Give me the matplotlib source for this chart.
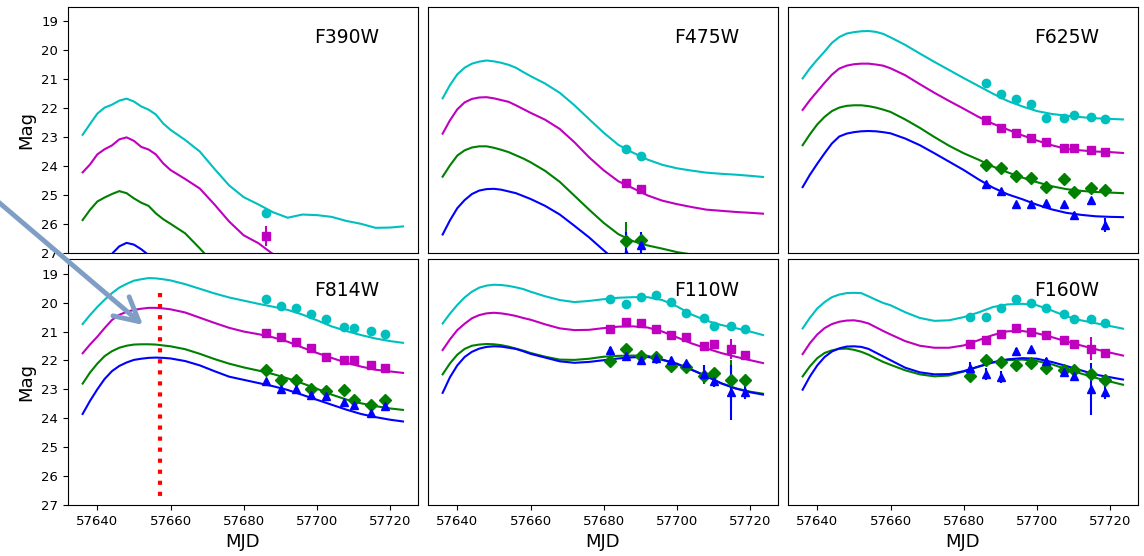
"""
plot.py
Light curves in six HST filters with model fits.
"""

import numpy as np
import matplotlib.pyplot as plt
from matplotlib.patches import FancyArrowPatch

nan = np.nan

# model grid (MJD)
T_MODEL = [57636, 57638, 57640, 57642, 57644, 57646, 57648, 57650, 57652, 57654,
           57656, 57658, 57660, 57664, 57668, 57672, 57676, 57680, 57684, 57688,
           57692, 57696, 57700, 57704, 57708, 57712, 57716, 57720, 57723.5]

# model curves: C = cyan, M = magenta, G = green, B = blue
F390W_C = [22.92, 22.55, 22.19, 21.98, 21.88, 21.74, 21.67, 21.77, 21.94, 22.05, 22.22, 22.53, 22.75, 23.10, 23.50,
           24.10, 24.67, 25.08, 25.33, 25.60, 25.79, 25.68, 25.70, 25.76, 25.90, 26.00, 26.14, 26.13, 26.09]
F390W_M = [24.22, 23.95, 23.60, 23.42, 23.29, 23.08, 23.01, 23.13, 23.34, 23.43, 23.60, 23.91, 24.14, 24.45, 24.78,
           25.33, 25.92, 26.40, 26.67, 27.05, 27.50, nan, nan, nan, nan, nan, nan, nan, nan]
F390W_G = [25.87, 25.52, 25.23, 25.09, 24.97, 24.87, 24.94, 25.12, 25.27, 25.38, 25.64, 25.84, 26.00, 26.33, 26.85,
           27.40, nan, nan, nan, nan, nan, nan, nan, nan, nan, nan, nan, nan, nan]
F390W_B = [nan, nan, nan, 27.30, 27.04, 26.78, 26.66, 26.72, 26.88, 27.08, 27.40, nan, nan, nan, nan,
           nan, nan, nan, nan, nan, nan, nan, nan, nan, nan, nan, nan, nan, nan]

F475W_C = [21.66, 21.20, 20.83, 20.60, 20.46, 20.39, 20.35, 20.38, 20.43, 20.50, 20.60, 20.75, 20.89, 21.15, 21.47,
           21.90, 22.38, 22.85, 23.27, 23.54, 23.78, 23.96, 24.08, 24.16, 24.23, 24.27, 24.30, 24.34, 24.38]
F475W_M = [22.88, 22.42, 22.04, 21.80, 21.68, 21.63, 21.62, 21.66, 21.72, 21.78, 21.90, 22.03, 22.16, 22.40, 22.72,
           23.18, 23.70, 24.15, 24.53, 24.77, 25.02, 25.20, 25.32, 25.42, 25.51, 25.55, 25.59, 25.62, 25.65]
F475W_G = [24.37, 23.98, 23.64, 23.46, 23.36, 23.32, 23.32, 23.37, 23.44, 23.52, 23.63, 23.74, 23.87, 24.17, 24.55,
           25.03, 25.51, 25.97, 26.36, 26.60, 26.75, 26.86, 26.98, 27.06, 27.12, nan, nan, nan, nan]
F475W_B = [26.37, 25.88, 25.46, 25.18, 24.97, 24.85, 24.80, 24.79, 24.82, 24.88, 24.94, 25.04, 25.14, 25.38, 25.68,
           26.07, 26.47, 26.92, 27.35, nan, nan, nan, nan, nan, nan, nan, nan, nan, nan]

F625W_C = [20.97, 20.62, 20.32, 20.04, 19.74, 19.54, 19.42, 19.37, 19.34, 19.33, 19.36, 19.43, 19.55, 19.81, 20.11,
           20.40, 20.68, 20.96, 21.23, 21.50, 21.75, 21.94, 22.10, 22.20, 22.26, 22.31, 22.35, 22.37, 22.39]
F625W_M = [22.06, 21.72, 21.42, 21.12, 20.84, 20.63, 20.53, 20.48, 20.46, 20.46, 20.49, 20.53, 20.62, 20.86, 21.17,
           21.47, 21.75, 22.02, 22.30, 22.54, 22.74, 22.94, 23.12, 23.28, 23.41, 23.46, 23.50, 23.52, 23.55]
F625W_G = [23.28, 22.90, 22.56, 22.30, 22.10, 21.98, 21.92, 21.90, 21.90, 21.93, 21.98, 22.05, 22.13, 22.39, 22.68,
           23.00, 23.30, 23.56, 23.78, 24.02, 24.22, 24.40, 24.56, 24.70, 24.80, 24.86, 24.90, 24.92, 24.94]
F625W_B = [24.73, 24.30, 23.92, 23.56, 23.22, 22.98, 22.88, 22.83, 22.80, 22.79, 22.80, 22.83, 22.87, 23.05, 23.28,
           23.56, 23.85, 24.14, 24.46, 24.75, 24.98, 25.15, 25.34, 25.50, 25.62, 25.69, 25.74, 25.76, 25.77]

F814W_C = [20.74, 20.43, 20.15, 19.90, 19.67, 19.48, 19.35, 19.24, 19.19, 19.15, 19.16, 19.19, 19.23, 19.36, 19.52,
           19.68, 19.82, 19.93, 20.04, 20.14, 20.25, 20.41, 20.61, 20.82, 20.98, 21.12, 21.24, 21.33, 21.39]
F814W_M = [21.75, 21.45, 21.18, 20.88, 20.60, 20.42, 20.32, 20.25, 20.21, 20.18, 20.18, 20.20, 20.23, 20.34, 20.52,
           20.70, 20.87, 21.00, 21.09, 21.20, 21.35, 21.55, 21.74, 21.91, 22.08, 22.21, 22.32, 22.38, 22.43]
F814W_G = [22.80, 22.42, 22.11, 21.85, 21.68, 21.56, 21.49, 21.45, 21.44, 21.44, 21.45, 21.48, 21.51, 21.61, 21.77,
           21.95, 22.11, 22.24, 22.35, 22.47, 22.62, 22.79, 22.98, 23.18, 23.35, 23.48, 23.58, 23.66, 23.71]
F814W_B = [23.85, 23.40, 23.00, 22.64, 22.37, 22.19, 22.07, 21.98, 21.94, 21.91, 21.90, 21.91, 21.93, 22.02, 22.17,
           22.37, 22.56, 22.67, 22.78, 22.89, 23.02, 23.19, 23.36, 23.53, 23.70, 23.85, 23.96, 24.05, 24.11]

F110W_C = [20.72, 20.38, 20.08, 19.82, 19.62, 19.48, 19.41, 19.38, 19.39, 19.42, 19.47, 19.53, 19.62, 19.78, 19.91,
           19.98, 19.94, 19.88, 19.83, 19.81, 19.81, 19.91, 20.13, 20.41, 20.62, 20.77, 20.88, 21.00, 21.12]
F110W_M = [21.64, 21.27, 20.95, 20.73, 20.54, 20.43, 20.37, 20.35, 20.37, 20.41, 20.46, 20.53, 20.59, 20.75, 20.89,
           20.95, 20.94, 20.88, 20.83, 20.82, 20.86, 21.00, 21.20, 21.41, 21.58, 21.74, 21.87, 21.99, 22.09]
F110W_G = [22.48, 22.10, 21.80, 21.60, 21.49, 21.45, 21.43, 21.44, 21.47, 21.52, 21.59, 21.66, 21.74, 21.87, 21.97,
           21.98, 21.94, 21.87, 21.84, 21.83, 21.84, 21.98, 22.13, 22.32, 22.54, 22.78, 22.96, 23.08, 23.15]
F110W_B = [23.12, 22.58, 22.17, 21.88, 21.70, 21.59, 21.53, 21.51, 21.52, 21.56, 21.60, 21.68, 21.77, 21.90, 22.03,
           22.08, 22.05, 21.99, 21.93, 21.89, 21.88, 21.97, 22.11, 22.32, 22.54, 22.79, 22.97, 23.10, 23.18]

F160W_C = [20.89, 20.52, 20.20, 19.98, 19.81, 19.72, 19.67, 19.66, 19.67, 19.78, 19.90, 20.01, 20.09, 20.33, 20.53,
           20.63, 20.61, 20.50, 20.34, 20.15, 20.06, 20.04, 20.09, 20.27, 20.47, 20.61, 20.71, 20.81, 20.90]
F160W_M = [21.78, 21.40, 21.10, 20.88, 20.74, 20.66, 20.62, 20.61, 20.65, 20.72, 20.85, 20.98, 21.10, 21.33, 21.49,
           21.56, 21.56, 21.48, 21.30, 21.12, 20.99, 20.98, 21.06, 21.19, 21.34, 21.48, 21.61, 21.73, 21.83]
F160W_G = [22.55, 22.20, 21.92, 21.74, 21.65, 21.60, 21.59, 21.63, 21.70, 21.80, 21.93, 22.05, 22.15, 22.34, 22.48,
           22.55, 22.52, 22.38, 22.22, 22.07, 21.99, 21.97, 22.02, 22.13, 22.30, 22.45, 22.60, 22.73, 22.84]
F160W_B = [23.01, 22.55, 22.17, 21.88, 21.69, 21.58, 21.52, 21.51, 21.53, 21.60, 21.73, 21.86, 21.99, 22.25, 22.41,
           22.48, 22.47, 22.37, 22.21, 22.06, 21.96, 21.92, 21.94, 22.05, 22.19, 22.34, 22.49, 22.58, 22.66]

# observation epochs
EPOCHS_1 = [57686.1]
EPOCHS_2 = [57686.1, 57690.1]
EPOCHS_9 = [57686.1, 57690.2, 57694.4, 57698.5, 57702.4, 57707.4, 57710.0, 57714.7, 57718.5]
EPOCHS_10 = [57681.8, 57686.1, 57690.2, 57694.4, 57698.5, 57702.4, 57707.4, 57710.0, 57714.7, 57718.5]

# observed magnitudes and errors
F390W_OBS_C, F390W_ERR_C = [25.63], [0.10]
F390W_OBS_M, F390W_ERR_M = [26.41], [0.35]
F390W_OBS_G, F390W_ERR_G = [], []
F390W_OBS_B, F390W_ERR_B = [], []

F475W_OBS_C, F475W_ERR_C = [23.40, 23.66], [0.06, 0.06]
F475W_OBS_M, F475W_ERR_M = [24.59, 24.79], [0.06, 0.06]
F475W_OBS_G, F475W_ERR_G = [26.60, 26.57], [0.66, 0.15]
F475W_OBS_B, F475W_ERR_B = [27.05, 26.72], [0.75, 0.45]

F625W_OBS_C = [21.13, 21.50, 21.67, 21.87, 22.33, 22.33, 22.22, 22.29, 22.37]
F625W_ERR_C = [0.04, 0.04, 0.04, 0.04, 0.04, 0.04, 0.04, 0.04, 0.04]
F625W_OBS_M = [22.40, 22.69, 22.85, 23.02, 23.17, 23.38, 23.37, 23.46, 23.52]
F625W_ERR_M = [0.05, 0.05, 0.05, 0.05, 0.05, 0.05, 0.05, 0.05, 0.05]
F625W_OBS_G = [23.95, 24.07, 24.33, 24.41, 24.73, 24.44, 24.90, 24.76, 24.84]
F625W_ERR_G = [0.06, 0.06, 0.06, 0.06, 0.06, 0.06, 0.06, 0.06, 0.06]
F625W_OBS_B = [24.61, 24.87, 25.31, 25.31, 25.28, 25.31, 25.71, 25.19, 26.05]
F625W_ERR_B = [0.08, 0.08, 0.08, 0.08, 0.08, 0.08, 0.12, 0.08, 0.25]

F814W_OBS_C = [19.89, 20.10, 20.19, 20.40, 20.58, 20.84, 20.88, 20.99, 21.08]
F814W_ERR_C = [0.03, 0.03, 0.03, 0.03, 0.03, 0.03, 0.03, 0.03, 0.03]
F814W_OBS_M = [21.05, 21.20, 21.37, 21.58, 21.88, 21.97, 21.97, 22.14, 22.25]
F814W_ERR_M = [0.04, 0.04, 0.04, 0.04, 0.04, 0.04, 0.04, 0.04, 0.04]
F814W_OBS_G = [22.34, 22.66, 22.66, 22.99, 23.07, 23.03, 23.36, 23.55, 23.36]
F814W_ERR_G = [0.05, 0.05, 0.05, 0.05, 0.05, 0.05, 0.05, 0.05, 0.05]
F814W_OBS_B = [22.72, 22.99, 22.99, 23.21, 23.24, 23.45, 23.53, 23.82, 23.59]
F814W_ERR_B = [0.06, 0.06, 0.06, 0.06, 0.06, 0.06, 0.06, 0.06, 0.06]

F110W_OBS_C = [19.86, 20.06, 19.80, 19.75, 19.98, 20.35, 20.53, 20.82, 20.82, 20.91]
F110W_ERR_C = [0.03, 0.03, 0.03, 0.03, 0.03, 0.03, 0.05, 0.05, 0.15, 0.05]
F110W_OBS_M = [20.91, 20.68, 20.70, 20.90, 21.12, 21.18, 21.51, 21.44, 21.60, 21.80]
F110W_ERR_M = [0.04, 0.04, 0.04, 0.04, 0.04, 0.04, 0.15, 0.06, 0.35, 0.06]
F110W_OBS_G = [22.01, 21.62, 21.86, 21.88, 22.18, 22.23, 22.53, 22.43, 22.69, 22.69]
F110W_ERR_G = [0.06, 0.06, 0.06, 0.06, 0.06, 0.06, 0.30, 0.15, 0.70, 0.15]
F110W_OBS_B = [21.65, 21.83, 21.97, 21.91, 21.97, 22.09, 22.47, 22.72, 23.10, 23.10]
F110W_ERR_B = [0.12, 0.08, 0.08, 0.08, 0.08, 0.08, 0.30, 0.20, 0.95, 0.25]

F160W_OBS_C = [20.50, 20.50, 20.20, 19.89, 20.01, 20.18, 20.39, 20.58, 20.58, 20.72]
F160W_ERR_C = [0.03, 0.03, 0.03, 0.03, 0.03, 0.03, 0.03, 0.03, 0.12, 0.03]
F160W_OBS_M = [21.43, 21.28, 21.07, 20.87, 21.01, 21.13, 21.28, 21.42, 21.59, 21.74]
F160W_ERR_M = [0.04, 0.04, 0.04, 0.04, 0.04, 0.04, 0.04, 0.04, 0.40, 0.05]
F160W_OBS_G = [22.53, 21.99, 22.05, 22.17, 22.09, 22.26, 22.34, 22.32, 22.47, 22.66]
F160W_ERR_G = [0.20, 0.06, 0.06, 0.06, 0.06, 0.06, 0.06, 0.06, 0.10, 0.08]
F160W_OBS_B = [22.26, 22.47, 22.58, 21.68, 21.62, 22.03, 22.41, 22.53, 22.99, 23.10]
F160W_ERR_B = [0.20, 0.20, 0.20, 0.10, 0.10, 0.10, 0.12, 0.12, 0.90, 0.25]

FILTERS = ['F390W', 'F475W', 'F625W', 'F814W', 'F110W', 'F160W']

# red dotted marker in the F814W panel
PEAK_MJD = 57657.1
PEAK_SPAN = [19.66, 26.73]

panels = [
    (EPOCHS_1, [F390W_C, F390W_M, F390W_G, F390W_B],
     [F390W_OBS_C, F390W_OBS_M, F390W_OBS_G, F390W_OBS_B],
     [F390W_ERR_C, F390W_ERR_M, F390W_ERR_G, F390W_ERR_B]),
    (EPOCHS_2, [F475W_C, F475W_M, F475W_G, F475W_B],
     [F475W_OBS_C, F475W_OBS_M, F475W_OBS_G, F475W_OBS_B],
     [F475W_ERR_C, F475W_ERR_M, F475W_ERR_G, F475W_ERR_B]),
    (EPOCHS_9, [F625W_C, F625W_M, F625W_G, F625W_B],
     [F625W_OBS_C, F625W_OBS_M, F625W_OBS_G, F625W_OBS_B],
     [F625W_ERR_C, F625W_ERR_M, F625W_ERR_G, F625W_ERR_B]),
    (EPOCHS_9, [F814W_C, F814W_M, F814W_G, F814W_B],
     [F814W_OBS_C, F814W_OBS_M, F814W_OBS_G, F814W_OBS_B],
     [F814W_ERR_C, F814W_ERR_M, F814W_ERR_G, F814W_ERR_B]),
    (EPOCHS_10, [F110W_C, F110W_M, F110W_G, F110W_B],
     [F110W_OBS_C, F110W_OBS_M, F110W_OBS_G, F110W_OBS_B],
     [F110W_ERR_C, F110W_ERR_M, F110W_ERR_G, F110W_ERR_B]),
    (EPOCHS_10, [F160W_C, F160W_M, F160W_G, F160W_B],
     [F160W_OBS_C, F160W_OBS_M, F160W_OBS_G, F160W_OBS_B],
     [F160W_ERR_C, F160W_ERR_M, F160W_ERR_G, F160W_ERR_B]),
]

colors = ['c', 'm', 'g', 'b']
markers = ['o', 's', 'D', '^']

W, H = 1144, 556
fig = plt.figure(figsize=(W / 100, H / 100), dpi=100)

col_left = [68, 428, 788]
row_top = [7, 259.3]
aw, ah = 350, 245.7

for i, name in enumerate(FILTERS):
    r, c = divmod(i, 3)
    ax = fig.add_axes([col_left[c] / W, 1 - (row_top[r] + ah) / H, aw / W, ah / H])
    epochs, models, obs, errs = panels[i]

    for model, col in zip(models, colors):
        ax.plot(T_MODEL, model, color=col, lw=1.5)
    for ob, er, col, mk in zip(obs, errs, colors, markers):
        if len(ob) == 0:
            continue
        ep = epochs[:len(ob)]
        ax.errorbar(ep, ob, yerr=er, fmt=mk, color=col, ms=6, capsize=0, elinewidth=1.5)

    if name == 'F814W':
        ax.plot([PEAK_MJD, PEAK_MJD], PEAK_SPAN, 'r:', lw=3)

    ax.set_xlim(57632.0, 57727.6)
    ax.set_ylim(27, 18.5)
    ax.set_xticks([57640, 57660, 57680, 57700, 57720])
    ax.set_yticks(range(19, 28))
    ax.tick_params(labelsize=9.5)
    ax.text(0.795, 0.875, name, transform=ax.transAxes, fontsize=13.5,
            ha='center', va='center')

    if r == 0:
        ax.tick_params(axis='x', bottom=False, labelbottom=False)
    else:
        ax.set_xlabel('MJD', fontsize=13)
    if c == 0:
        ax.set_ylabel('Mag', fontsize=13)
    else:
        ax.tick_params(axis='y', left=False, labelleft=False)

# arrow pointing at the peak
arrow = FancyArrowPatch((-0.009, 0.650), (0.125, 0.4155), transform=fig.transFigure,
                        arrowstyle='->,head_length=0.85,head_width=0.45', mutation_scale=20,
                        lw=3.5, color='#7f9ec5', shrinkA=0, shrinkB=0)
fig.add_artist(arrow)

fig.savefig('out.png', dpi=100)
